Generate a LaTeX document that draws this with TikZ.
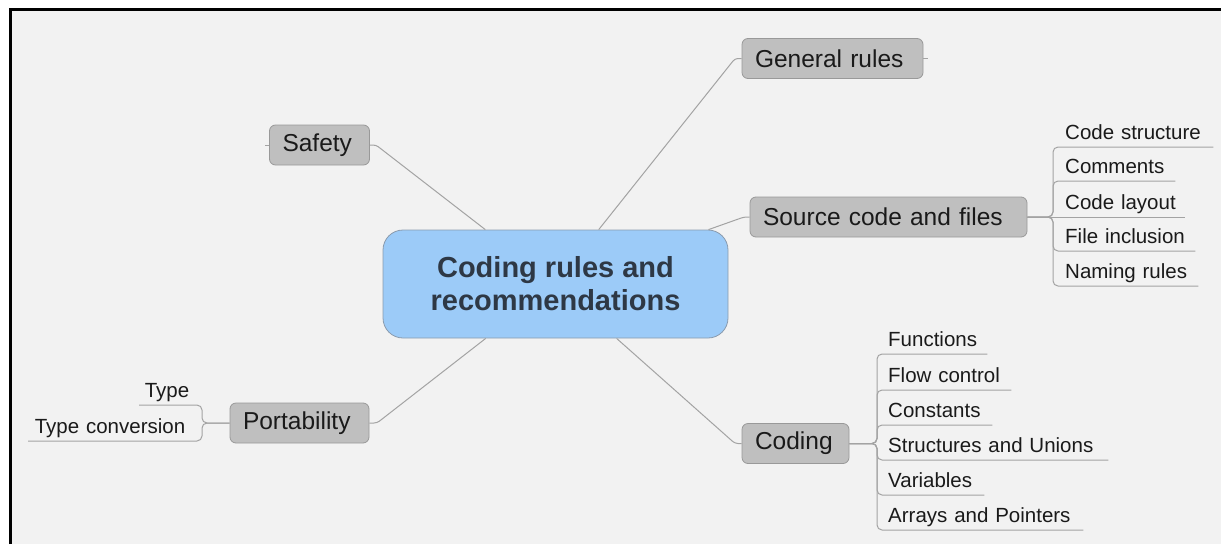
\documentclass[tikz,border=0pt]{standalone}
\usepackage{fontspec}
\setmainfont{Liberation Sans}
\definecolor{bgc}{HTML}{F2F2F2}
\definecolor{topicfill}{HTML}{BFBFBF}
\definecolor{topicdraw}{HTML}{999999}
\definecolor{centralfill}{HTML}{9CCBF8}
\definecolor{centraldraw}{HTML}{8A9BAE}
\definecolor{linec}{HTML}{A3A3A3}
\definecolor{txt}{HTML}{1A1A1A}
\definecolor{ctxt}{HTML}{2E3845}
\begin{document}
\begin{tikzpicture}[x=1pt,y=-1pt,
  central/.style={draw=centraldraw, fill=centralfill, rounded corners=20pt, line width=0.8pt,
    minimum width=345pt, minimum height=108pt, align=center, text=ctxt,
    font=\fontsize{29}{33}\selectfont\bfseries},
  topic/.style={draw=topicdraw, fill=topicfill, rounded corners=6pt, line width=0.8pt,
    minimum height=40pt, inner xsep=13pt, inner ysep=0pt, align=left, text=txt,
    font=\fontsize{24.5}{28}\selectfont},
  leaf/.style={inner xsep=0pt, inner ysep=3pt, text depth=4pt, text=txt,
    font=\fontsize{20.5}{24}\selectfont},
  conn/.style={draw=linec, line width=1pt, rounded corners=3pt},
  branch/.style={draw=linec, line width=1pt, rounded corners=5pt}
]
\useasboundingbox (0,0) rectangle (1221,544);
\fill[white] (0,0) rectangle (1221,544);
\fill[bgc] (9,8) rectangle (1221,544);
\draw[line width=3pt] (10.5,544) -- (10.5,9.5) -- (1221,9.5);

% central
\node[central] (cen) at (555.5,284) {Coding rules and\\recommendations};

% topics
\node[topic, text width=155pt] (gen) at (832.5,58.5) {General rules};
\node[topic, text width=251pt] (src) at (888.5,217) {Source code and files};
\node[topic, text width=81pt] (cod) at (795.5,443.5) {Coding};
\node[topic, text width=74pt] (saf) at (319.5,145) {Safety};
\node[topic, text width=113pt] (por) at (299.5,423) {Portability};

% knee coordinates
\coordinate (gk) at (735,58.5);
\coordinate (sk) at (744,217);
\coordinate (ck) at (735,443.5);
\coordinate (safk) at (376,145);
\coordinate (pk) at (377,423);

\draw[conn] (cen) -- (gk) -- (gen.west);
\draw[conn] (cen) -- (sk) -- (src.west);
\draw[conn] (cen) -- (ck) -- (cod.west);
\draw[conn] (cen) -- (safk) -- (saf.east);
\draw[conn] (cen) -- (pk) -- (por.east);

% stubs
\coordinate (gstub) at (928,58.5);
\coordinate (sstub) at (265,145);
\draw[conn] (gen.east) -- (gstub);
\draw[conn] (saf.west) -- (sstub);

% source children
\node[leaf, anchor=south west, text width=148pt] (l1) at (1065,147) {Code structure};
\node[leaf, anchor=south west, text width=110pt] (l2) at (1065,181) {Comments};
\node[leaf, anchor=south west, text width=120pt] (l3) at (1065,217) {Code layout};
\node[leaf, anchor=south west, text width=130pt] (l4) at (1065,251) {File inclusion};
\node[leaf, anchor=south west, text width=133pt] (l5) at (1065,286) {Naming rules};
\coordinate (sb) at (1053,217);
\draw[branch] (src.east) -- (sb) |- (l1.south east);
\draw[branch] (src.east) -- (sb) |- (l2.south east);
\draw[branch] (src.east) -- (l3.south east);
\draw[branch] (src.east) -- (sb) |- (l4.south east);
\draw[branch] (src.east) -- (sb) |- (l5.south east);

% coding children
\node[leaf, anchor=south west, text width=99pt] (c1) at (888,354) {Functions};
\node[leaf, anchor=south west, text width=123pt] (c2) at (888,390) {Flow control};
\node[leaf, anchor=south west, text width=104pt] (c3) at (888,425) {Constants};
\node[leaf, anchor=south west, text width=220pt] (c4) at (888,460) {Structures and Unions};
\node[leaf, anchor=south west, text width=96pt] (c5) at (888,495) {Variables};
\node[leaf, anchor=south west, text width=195pt] (c6) at (888,530) {Arrays and Pointers};
\coordinate (cb) at (877,443.5);
\foreach \c in {c1,c2,c3,c4,c5,c6}{
  \draw[branch] (cod.east) -- (cb) |- (\c.south east);
}

% portability children
\node[leaf, anchor=south west, text width=50pt, align=right] (p1) at (139,405) {Type};
\node[leaf, anchor=south west, text width=157pt, align=right] (p2) at (28,441) {Type conversion};
\coordinate (pb) at (202,423);
\draw[branch] (por.west) -- (pb) |- (p1.south west);
\draw[branch] (por.west) -- (pb) |- (p2.south west);
\end{tikzpicture}
\end{document}
